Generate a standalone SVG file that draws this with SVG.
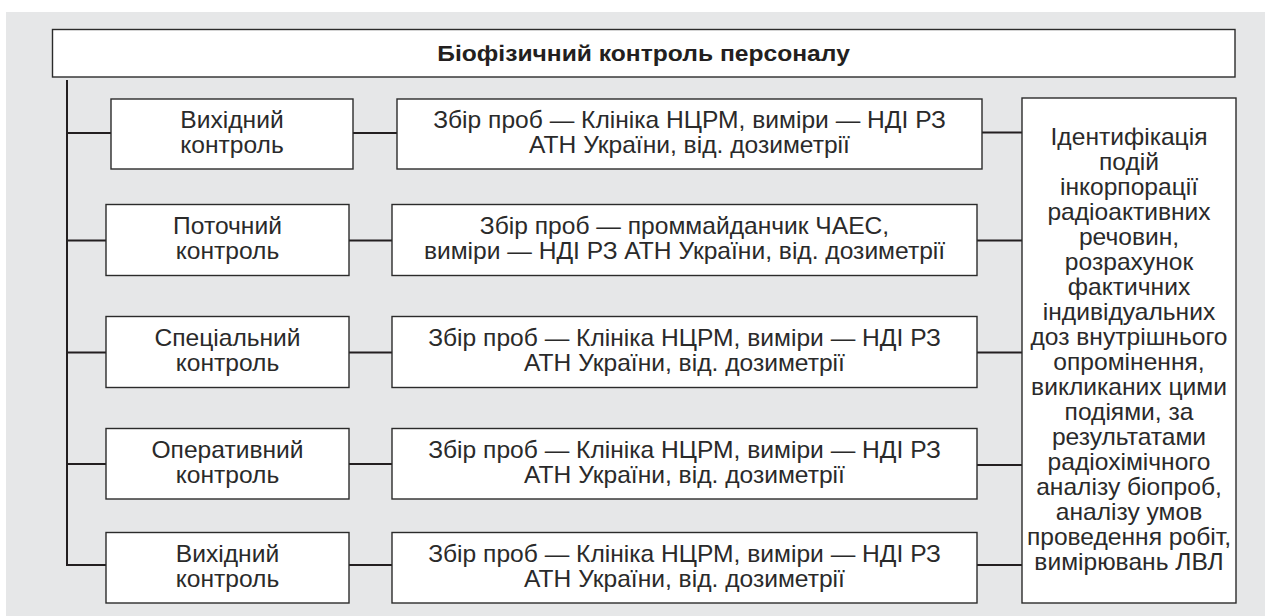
<svg xmlns="http://www.w3.org/2000/svg" width="1265" height="616" viewBox="0 0 1265 616">
<style>
.box{fill:#fff;stroke:#2b2b2b;stroke-width:1.4}
.ln{stroke:#231f20;stroke-width:2;fill:none}
text{font-family:"Liberation Sans",Arial,sans-serif;font-size:23px;fill:#2a2a2a;text-anchor:middle}
.t{font-weight:bold;font-size:22px;fill:#231f20}
</style>
<rect x="6" y="12" width="1259" height="604" fill="#e6e7e8"/>
<g id="title">
<rect class="box" x="52.5" y="29.5" width="1182.5" height="47.5"/>
<text class="t" transform="translate(643.5,0) scale(1.12,1)" x="0" y="61">Біофізичний контроль персоналу</text>
</g>
<g id="connectors">
<path class="ln" d="M67,80V565M66,133H111M66,240.5H106M66,352.5H106M66,464H106M66,565H106"/>
<path class="ln" d="M353,133H397M349,240.5H392M349,352.5H392M349,464H392M349,565H392"/>
<path class="ln" d="M982,132.5H1022M977,240.5H1022M977,352.5H1022M977,465H1022M977,565H1022"/>
</g>
<g id="k1">
<rect class="box" x="111" y="99" width="242" height="70"/>
<text transform="translate(232,0) scale(1.07,1)"><tspan x="0" y="128.5">Вихідний</tspan><tspan x="0" y="153.5">контроль</tspan></text>
</g>
<g id="k2">
<rect class="box" x="106" y="204.5" width="243" height="71"/>
<text transform="translate(227.5,0) scale(1.07,1)"><tspan x="0" y="234.5">Поточний</tspan><tspan x="0" y="259.5">контроль</tspan></text>
</g>
<g id="k3">
<rect class="box" x="106" y="316.5" width="243" height="71"/>
<text transform="translate(227.5,0) scale(1.07,1)"><tspan x="0" y="346.5">Спеціальний</tspan><tspan x="0" y="371.5">контроль</tspan></text>
</g>
<g id="k4">
<rect class="box" x="106" y="428.5" width="243" height="70.5"/>
<text transform="translate(227.5,0) scale(1.07,1)"><tspan x="0" y="458.5">Оперативний</tspan><tspan x="0" y="483.5">контроль</tspan></text>
</g>
<g id="k5">
<rect class="box" x="106" y="532.5" width="243" height="70.5"/>
<text transform="translate(227.5,0) scale(1.07,1)"><tspan x="0" y="562.5">Вихідний</tspan><tspan x="0" y="587.5">контроль</tspan></text>
</g>
<g id="m1">
<rect class="box" x="397" y="99" width="585" height="70"/>
<text transform="translate(689.5,0) scale(1.07,1)"><tspan x="0" y="128.5">Збір проб — Клініка НЦРМ, виміри — НДІ РЗ</tspan><tspan x="0" y="153.5">АТН України, від. дозиметрії</tspan></text>
</g>
<g id="m2">
<rect class="box" x="392" y="204.5" width="585" height="71"/>
<text transform="translate(684.5,0) scale(1.07,1)"><tspan x="0" y="234.5">Збір проб — проммайданчик ЧАЕС,</tspan><tspan x="0" y="259.5">виміри — НДІ РЗ АТН України, від. дозиметрії</tspan></text>
</g>
<g id="m3">
<rect class="box" x="392" y="316.5" width="585" height="71"/>
<text transform="translate(684.5,0) scale(1.07,1)"><tspan x="0" y="346.5">Збір проб — Клініка НЦРМ, виміри — НДІ РЗ</tspan><tspan x="0" y="371.5">АТН України, від. дозиметрії</tspan></text>
</g>
<g id="m4">
<rect class="box" x="392" y="428.5" width="585" height="70.5"/>
<text transform="translate(684.5,0) scale(1.07,1)"><tspan x="0" y="458.5">Збір проб — Клініка НЦРМ, виміри — НДІ РЗ</tspan><tspan x="0" y="483.5">АТН України, від. дозиметрії</tspan></text>
</g>
<g id="m5">
<rect class="box" x="392" y="532.5" width="585" height="70.5"/>
<text transform="translate(684.5,0) scale(1.07,1)"><tspan x="0" y="562.5">Збір проб — Клініка НЦРМ, виміри — НДІ РЗ</tspan><tspan x="0" y="587.5">АТН України, від. дозиметрії</tspan></text>
</g>
<g id="result">
<rect class="box" x="1022" y="98" width="214" height="505"/>
<text transform="translate(1129,0) scale(1.07,1)"><tspan x="0" y="145">Ідентифікація</tspan><tspan x="0" y="170">подій</tspan><tspan x="0" y="195">інкорпорації</tspan><tspan x="0" y="220">радіоактивних</tspan><tspan x="0" y="245">речовин,</tspan><tspan x="0" y="270">розрахунок</tspan><tspan x="0" y="295">фактичних</tspan><tspan x="0" y="320">індивідуальних</tspan><tspan x="0" y="345">доз внутрішнього</tspan><tspan x="0" y="370">опромінення,</tspan><tspan x="0" y="395">викликаних цими</tspan><tspan x="0" y="420">подіями, за</tspan><tspan x="0" y="445">результатами</tspan><tspan x="0" y="470">радіохімічного</tspan><tspan x="0" y="495">аналізу біопроб,</tspan><tspan x="0" y="520">аналізу умов</tspan><tspan x="0" y="545">проведення робіт,</tspan><tspan x="0" y="570">вимірювань ЛВЛ</tspan></text>
</g>
</svg>
